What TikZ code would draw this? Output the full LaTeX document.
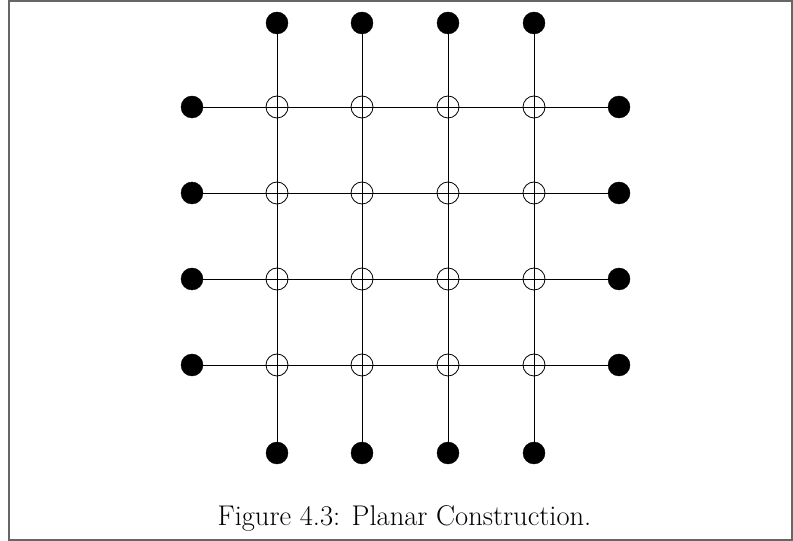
\documentclass[tikz,border=0pt]{standalone}
\begin{document}
\begin{tikzpicture}[x=1pt,y=1pt,
  dot/.style={circle,fill=black,draw=black,inner sep=0pt,minimum size=22pt},
  cross/.style={circle,draw=black,line width=0.8pt,inner sep=0pt,minimum size=22pt},
  wire/.style={black,line width=0.9pt}]
\useasboundingbox (0,0) rectangle (793,541);
\draw[gray!80!black,line width=1.5pt] (9,540) rectangle (792,1);
% columns and rows (pixel coordinates, y flipped)
\foreach \i/\x in {1/277,2/362,3/448,4/534}{
  \node[dot] (t\i) at (\x,518) {};
  \node[dot] (b\i) at (\x,88) {};
}
\foreach \j/\y in {1/434,2/348,3/262,4/176}{
  \node[dot] (l\j) at (192,\y) {};
  \node[dot] (r\j) at (619,\y) {};
}
\foreach \i in {1,...,4}{
  \draw[wire] (t\i) -- (b\i);
  \draw[wire] (l\i) -- (r\i);
}
\foreach \i/\x in {1/277,2/362,3/448,4/534}{
  \foreach \j/\y in {1/434,2/348,3/262,4/176}{
    \node[cross] (c\i\j) at (\x,\y) {};
  }
}
\node[font=\fontsize{28.5}{34}\selectfont,anchor=base,inner sep=0pt] (cap) at (404.5,15) {Figure 4.3: Planar Construction.};
\end{tikzpicture}
\end{document}
